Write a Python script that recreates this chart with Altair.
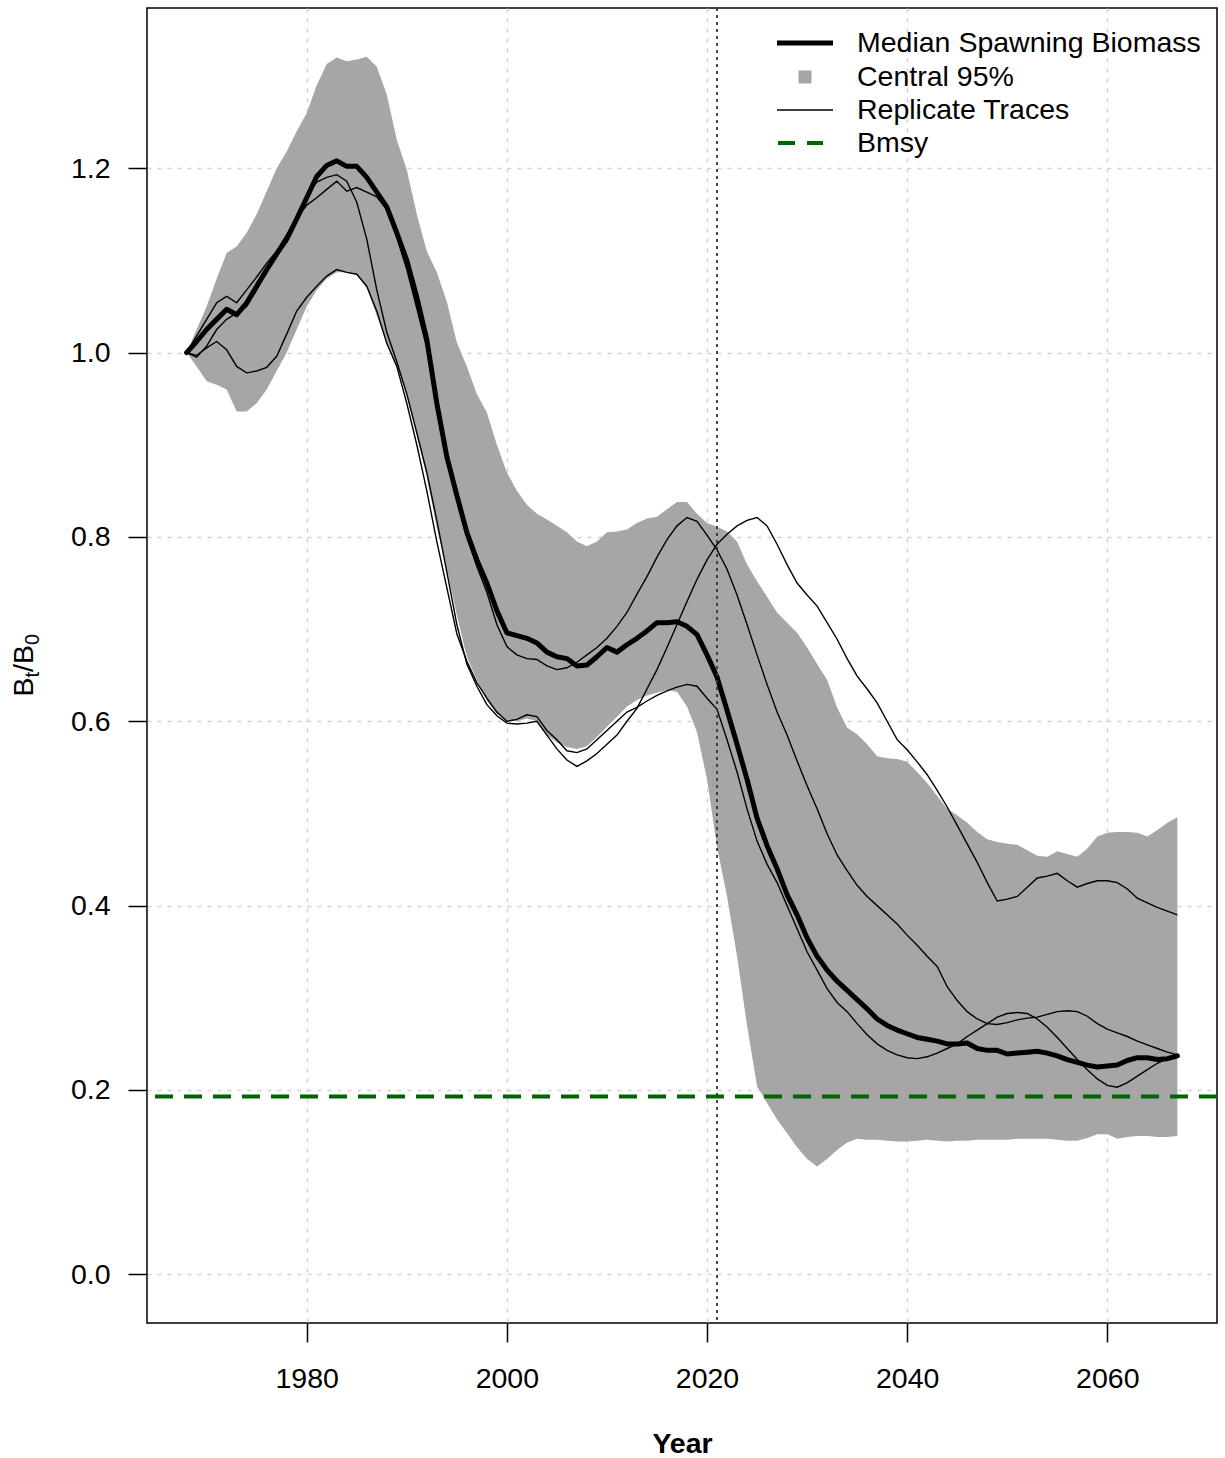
import altair as alt
import pandas as pd

# Projection years
years = list(range(1968, 2068))

# Median spawning biomass relative to unfished (Bt/B0)
median = [
    1.000, 1.012, 1.025, 1.036, 1.047, 1.041, 1.054, 1.072, 1.090, 1.107,
    1.123, 1.145, 1.168, 1.191, 1.203, 1.208, 1.202, 1.202, 1.190, 1.174,
    1.158, 1.130, 1.100, 1.060, 1.014, 0.945, 0.887, 0.845, 0.805, 0.775,
    0.750, 0.720, 0.696, 0.693, 0.690, 0.685, 0.675, 0.670, 0.668, 0.660,
    0.661, 0.670, 0.680, 0.675, 0.683, 0.690, 0.698, 0.707, 0.707, 0.708,
    0.703, 0.694, 0.672, 0.648, 0.612, 0.575, 0.537, 0.495, 0.465, 0.440,
    0.412, 0.390, 0.365, 0.345, 0.330, 0.318, 0.308, 0.298, 0.288, 0.277,
    0.270, 0.265, 0.261, 0.257, 0.255, 0.253, 0.250, 0.250, 0.251, 0.245,
    0.243, 0.243, 0.239, 0.240, 0.241, 0.242, 0.240, 0.237, 0.233, 0.230,
    0.227, 0.225, 0.226, 0.227, 0.232, 0.235, 0.235, 0.233, 0.234, 0.237,
]

# Central 95% interval
upper = [
    1.000, 1.025, 1.050, 1.080, 1.108, 1.115, 1.130, 1.150, 1.175, 1.200,
    1.218, 1.240, 1.260, 1.290, 1.313, 1.320, 1.316, 1.318, 1.321, 1.310,
    1.280, 1.231, 1.198, 1.150, 1.110, 1.087, 1.055, 1.011, 0.985, 0.955,
    0.935, 0.900, 0.870, 0.850, 0.835, 0.825, 0.819, 0.812, 0.805, 0.795,
    0.790, 0.795, 0.805, 0.806, 0.808, 0.815, 0.820, 0.822, 0.830, 0.838,
    0.838, 0.825, 0.815, 0.811, 0.806, 0.795, 0.770, 0.752, 0.735, 0.718,
    0.707, 0.696, 0.680, 0.662, 0.645, 0.615, 0.593, 0.586, 0.575, 0.562,
    0.560, 0.559, 0.556, 0.545, 0.533, 0.519, 0.505, 0.498, 0.490, 0.480,
    0.472, 0.469, 0.467, 0.466, 0.460, 0.454, 0.453, 0.459, 0.456, 0.453,
    0.462, 0.475, 0.479, 0.480, 0.480, 0.479, 0.475, 0.482, 0.490, 0.496,
]
lower = [
    1.000, 0.985, 0.969, 0.965, 0.960, 0.936, 0.936, 0.945, 0.960, 0.980,
    1.000, 1.025, 1.050, 1.068, 1.080, 1.087, 1.087, 1.085, 1.070, 1.040,
    1.010, 0.985, 0.955, 0.910, 0.865, 0.810, 0.765, 0.715, 0.670, 0.645,
    0.622, 0.608, 0.601, 0.600, 0.603, 0.600, 0.585, 0.577, 0.572, 0.570,
    0.573, 0.583, 0.594, 0.605, 0.616, 0.623, 0.628, 0.631, 0.634, 0.632,
    0.616, 0.588, 0.537, 0.464, 0.410, 0.345, 0.270, 0.204, 0.186, 0.168,
    0.153, 0.138, 0.125, 0.117, 0.125, 0.135, 0.143, 0.147, 0.146, 0.146,
    0.145, 0.144, 0.144, 0.145, 0.146, 0.145, 0.144, 0.145, 0.145, 0.146,
    0.146, 0.146, 0.146, 0.147, 0.147, 0.147, 0.147, 0.146, 0.145, 0.145,
    0.148, 0.152, 0.152, 0.147, 0.149, 0.150, 0.150, 0.149, 0.149, 0.150,
]

# Individual simulation replicates
trace_a = [
    1.000, 1.018, 1.036, 1.054, 1.061, 1.054, 1.068, 1.082, 1.097, 1.110,
    1.128, 1.145, 1.160, 1.168, 1.177, 1.186, 1.175, 1.179, 1.174, 1.169,
    1.155, 1.125, 1.090, 1.048, 1.005, 0.940, 0.885, 0.840, 0.800, 0.768,
    0.740, 0.705, 0.681, 0.672, 0.668, 0.667, 0.660, 0.656, 0.658, 0.664,
    0.672, 0.680, 0.690, 0.703, 0.718, 0.738, 0.757, 0.778, 0.797, 0.812,
    0.821, 0.817, 0.802, 0.786, 0.765, 0.737, 0.705, 0.672, 0.640, 0.610,
    0.585, 0.557, 0.530, 0.505, 0.478, 0.455, 0.438, 0.422, 0.410, 0.400,
    0.390, 0.380, 0.368, 0.357, 0.345, 0.334, 0.312, 0.297, 0.285, 0.277,
    0.272, 0.271, 0.273, 0.276, 0.278, 0.279, 0.282, 0.285, 0.286, 0.285,
    0.280, 0.272, 0.266, 0.262, 0.258, 0.253, 0.249, 0.245, 0.241, 0.238,
]
trace_b = [
    1.000, 0.995, 1.007, 1.025, 1.036, 1.043, 1.050, 1.068, 1.088, 1.105,
    1.120, 1.145, 1.170, 1.185, 1.190, 1.193, 1.186, 1.163, 1.123, 1.068,
    1.022, 0.990, 0.955, 0.913, 0.870, 0.818, 0.762, 0.705, 0.662, 0.638,
    0.618, 0.606, 0.598, 0.597, 0.598, 0.600, 0.585, 0.570, 0.558, 0.551,
    0.557, 0.565, 0.575, 0.585, 0.600, 0.614, 0.635, 0.656, 0.680, 0.705,
    0.730, 0.754, 0.775, 0.792, 0.803, 0.812, 0.818, 0.821, 0.812, 0.792,
    0.770, 0.750, 0.737, 0.725, 0.707, 0.689, 0.668, 0.649, 0.635, 0.620,
    0.600, 0.580, 0.569, 0.556, 0.542, 0.525, 0.507, 0.487, 0.467, 0.447,
    0.425, 0.405, 0.407, 0.410, 0.420, 0.430, 0.432, 0.435, 0.427, 0.420,
    0.424, 0.427, 0.427, 0.425, 0.418, 0.408, 0.403, 0.398, 0.394, 0.390,
]
trace_c = [
    1.000, 0.997, 1.005, 1.012, 1.003, 0.985, 0.978, 0.980, 0.984, 0.996,
    1.020, 1.045, 1.060, 1.072, 1.083, 1.090, 1.087, 1.085, 1.072, 1.045,
    1.010, 0.985, 0.945, 0.900, 0.850, 0.795, 0.745, 0.695, 0.665, 0.642,
    0.625, 0.610, 0.600, 0.602, 0.607, 0.605, 0.590, 0.580, 0.568, 0.566,
    0.570, 0.580, 0.590, 0.600, 0.610, 0.615, 0.622, 0.628, 0.633, 0.637,
    0.640, 0.638, 0.625, 0.613, 0.580, 0.545, 0.505, 0.470, 0.445, 0.425,
    0.400, 0.375, 0.350, 0.330, 0.310, 0.295, 0.285, 0.272, 0.260, 0.250,
    0.243, 0.238, 0.235, 0.234, 0.236, 0.240, 0.245, 0.250, 0.258, 0.265,
    0.272, 0.279, 0.283, 0.284, 0.283, 0.277, 0.268, 0.257, 0.245, 0.233,
    0.222, 0.212, 0.205, 0.203, 0.208, 0.215, 0.222, 0.229, 0.234, 0.238,
]

bmsy = 0.193          # reference point Bmsy/B0
current_year = 2021   # start of projection period

x_ticks = [1980, 2000, 2020, 2040, 2060]
y_ticks = [0.0, 0.2, 0.4, 0.6, 0.8, 1.0, 1.2]
legend_labels = ["Median Spawning Biomass", "Central 95%", "Replicate Traces", "Bmsy"]

FONT = "Liberation Sans"
FS = 28.5
BAND = "#A6A6A6"
GREEN = "#006400"
W, H = 1070, 1315

x_scale = alt.Scale(domain=[1964.04, 2070.96], nice=False, zero=False)
y_scale = alt.Scale(domain=[-0.0528, 1.3738], nice=False, zero=False)
x_axis = alt.Axis(values=x_ticks, format="d", title="Year", titleFontWeight="bold",
                  titleFontSize=FS, titleY=120, titleBaseline="middle",
                  labelPadding=22, labelOverlap=False, labelFlush=False)
y_axis = alt.Axis(values=y_ticks, format=".1f", title=None, labelPadding=18,
                  labelOverlap=False, labelFlush=False)


def X(field):
    return alt.X(field, type="quantitative", scale=x_scale, axis=x_axis)


def Y(field):
    return alt.Y(field, type="quantitative", scale=y_scale, axis=y_axis)


band_df = pd.DataFrame({"year": years, "lower": lower, "upper": upper})
median_df = pd.DataFrame({"year": years, "value": median})
trace_df = pd.concat([
    pd.DataFrame({"year": years, "value": vals, "replicate": name})
    for name, vals in [("a", trace_a), ("b", trace_b), ("c", trace_c)]
])

band = alt.Chart(band_df).mark_area(color=BAND, opacity=1, interpolate="linear").encode(
    x=X("year"), y=Y("lower"), y2="upper"
)

traces = alt.Chart(trace_df).mark_line(color="black", strokeWidth=1.4).encode(
    x=X("year"), y=Y("value"), detail="replicate:N"
)

median_line = alt.Chart(median_df).mark_line(
    color="black", strokeWidth=5, strokeJoin="round", strokeCap="round"
).encode(x=X("year"), y=Y("value"))

now_rule = alt.Chart(pd.DataFrame({"year": [current_year]})).mark_rule(
    color="#333333", strokeWidth=1.8, strokeDash=[3, 4]
).encode(x=X("year"))

bmsy_rule = alt.Chart(pd.DataFrame({"value": [bmsy]})).mark_rule(
    color=GREEN, strokeWidth=4, strokeDash=[18, 11]
).encode(y=Y("value"))

# Legend in the top-right corner of the panel
lg_x0, lg_x1, lg_text = 630, 686, 710
lg_rows = [35, 69, 102, 135]
one = pd.DataFrame({"k": [0]})

legend_layers = [
    alt.Chart(one).mark_rule(color="black", strokeWidth=5).encode(
        x=alt.value(lg_x0), x2=alt.value(lg_x1), y=alt.value(lg_rows[0])),
    alt.Chart(one).mark_square(color=BAND, opacity=1, size=170).encode(
        x=alt.value((lg_x0 + lg_x1) / 2), y=alt.value(lg_rows[1])),
    alt.Chart(one).mark_rule(color="black", strokeWidth=1.4).encode(
        x=alt.value(lg_x0), x2=alt.value(lg_x1), y=alt.value(lg_rows[2])),
    alt.Chart(one).mark_rule(color=GREEN, strokeWidth=4, strokeDash=[17, 12]).encode(
        x=alt.value(lg_x0 + 1), x2=alt.value(lg_x0 + 46), y=alt.value(lg_rows[3])),
]
for label, row in zip(legend_labels, lg_rows):
    legend_layers.append(
        alt.Chart(one).mark_text(
            text=label, align="left", baseline="middle", font=FONT, fontSize=FS, color="black"
        ).encode(x=alt.value(lg_text), y=alt.value(row))
    )

# Y-axis title B_t / B_0 built from pieces so the subscripts sit lower
sub_fs = FS * 0.7
base_x, sub_x = -114, -108
pieces = [("B", FS, base_x), ("t", sub_fs, sub_x), ("/", FS, base_x),
          ("B", FS, base_x), ("0", sub_fs, sub_x)]
advance = {"B": 0.667, "t": 0.278, "/": 0.278, "0": 0.556}
pos_y = 688.5
title_layers = []
for ch, size, bx in pieces:
    title_layers.append(
        alt.Chart(one).mark_text(
            text=ch, angle=270, align="left", baseline="alphabetic",
            font=FONT, fontSize=size, color="black"
        ).encode(x=alt.value(bx), y=alt.value(pos_y))
    )
    pos_y -= advance[ch] * size

chart = alt.layer(
    band, traces, median_line, now_rule, bmsy_rule, *legend_layers, *title_layers
).properties(
    width=W, height=H,
    padding={"left": 147, "top": 8, "right": 8, "bottom": 135},
    autosize=alt.AutoSizeParams(type="none"),
).configure_view(
    stroke="black", strokeWidth=1.5
).configure_axis(
    labelFont=FONT, labelFontSize=FS, labelColor="black",
    titleFont=FONT, titleColor="black",
    tickColor="black", tickWidth=1.5, tickSize=19,
    domain=False, grid=True, gridColor="#D3D3D3", gridDash=[4, 6], gridWidth=1.5,
)

chart.save("out.html", embed_options={"renderer": "svg", "actions": False})
